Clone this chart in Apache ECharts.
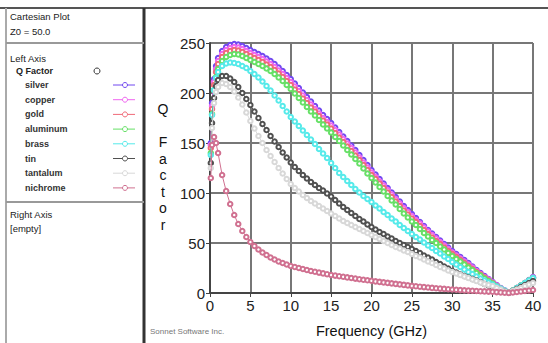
<!DOCTYPE html>
<html><head><meta charset="utf-8">
<script src="https://cdn.jsdelivr.net/npm/echarts@6/dist/echarts.min.js"></script>
<style>html,body{margin:0;padding:0;background:#fff}#c{width:548px;height:343px}</style>
</head><body><div id="c"></div>
<script>
const freq = [0.1,0.25,0.5,0.75,1,1.5,2,2.5,3,3.5,4,4.5,5,
5.5,6,6.5,7,7.5,8,8.5,9,9.5,10,
10.5,11,11.5,12,12.5,13,13.5,14,14.5,15,
15.5,16,16.5,17,17.5,18,18.5,19,19.5,20,
20.5,21,21.5,22,22.5,23,23.5,24,24.5,25,
25.5,26,26.5,27,27.5,28,28.5,29,29.5,30,
30.5,31,31.5,32,32.5,33,33.5,34,34.5,35,
35.5,36,36.5,37,37.5,38,38.5,39,39.5,40];

const silver = [150,190,214,227,235,242,246,248,249,248.5,247,245,243,
241,239,237,234.5,232,229,225.5,222,218,214,
209.5,205,200.5,196,191.5,187,182.5,178,174,170,
165.5,161,156.5,152,147.5,143,138,133,128,123,
118.5,114,109.5,105,100.5,96,91.5,87,83,79,
75,71,67,63,59.5,56,52.5,49,45.5,42,
39,36,33,30,26.5,23,20,17,14,11,
8,5,2.5,0.5,2.5,5,7.5,10,13,16];

const copper = [148,187,211,224,232,239,243,245,246,245.5,244,242,240,
238,236,234,231.5,229,226,222.5,219,215,211,
206.5,202,197.5,193,188.5,184,179.5,175,171,167.5,
163,158.5,154,149.5,145,140.5,135.5,130.5,125.5,120.5,
116,111.5,107.5,103,98.5,94,89.5,85,81,77,
73,69.5,65.5,61.5,58,54.5,51,47.5,44,40.5,
37.5,34.5,31.5,28.5,25.5,22,19,16,13.5,10.5,
7.5,4.5,2.5,0.5,2.5,5,7.5,10,12.5,15.5];

const gold = [145,184,208,221,229,236,240,242,243,242.5,241,239,237,
235,233,231,228.5,226,223,219.5,216,212,208,
203.5,199,194.5,190,185.5,181.5,177,172.5,168.5,164.5,
160,155.5,151,146.5,142,137.5,133,128,123,118,
114,109.5,105,100.5,96,91.5,87,82.5,78.5,74.5,
71,67,63,59,55.5,52,49,45.5,42,39,
36,33,30,27,24,21,18.5,15.5,12.5,10,
7,4.5,2,0.5,2.5,5,7.5,10,12.5,15];

const aluminum = [140,179,203,216,224,232,236,238,239,238.5,237,235,233,
231,229,227,224.5,222,219,215.5,212,208,204,
199.5,195,190.5,186,181.5,177.5,173,168.5,164.5,160.5,
156,152,147.5,143,138.5,134,129.5,124.5,119.5,115,
110.5,106,101.5,97,92.5,88.5,84,79.5,75.5,71.5,
68,64,60,56.5,53,50,46.5,43.5,40,37,
34,31.5,28.5,25.5,23,20,17.5,14.5,12,9.5,
6.5,4,2,0.5,2.5,5,7.5,10,12.5,15];

const brass = [138,178,203,215,221,227,229.5,230.5,230,229,227,225,222,
219,215.5,211.5,207,202.5,197.5,192.5,187,181.5,176,
171.5,167,162.5,158,153.5,149,144,139.5,135,130,
125,120,116,112,108,104,100.5,97,94,91,
87.5,84.5,81,78,74.5,71.5,68,65,62,59,
56,53.5,50.5,47.5,45,42,39.5,36.5,34,31,
28.5,26,23.5,21,19,16.5,14.5,12.5,10.5,8.5,
6.5,4.5,2.5,0.5,2.5,5,7.5,10,12.5,15];

const tin = [130,170,195,207,213,217,217,214.5,211,206,200,194,188,
181.5,175,169,163,157,151.5,146,140.5,135.5,130.5,
126,122,118,114.5,111,108,105,102.5,99.5,96.5,
93,89.5,86,83,80,77,74,71.5,68.5,66,
63.5,61,59,56.5,54.5,52,50,48,46,44,
42,40,37.5,35.5,33.5,31,29,26.5,24.5,22,
20.5,18.5,17,15.5,14,12.5,11,9,7.5,6,
4.5,3,1.5,0.5,2,4,6,8,10,12];

const tantalum = [125,165,190,201,206,210,209,206,201.5,195.5,188.5,180.5,172,
164.5,157,150,143,137,131,125,119.5,114,109,
105,101.5,98,95,92,89.5,87,84.5,82,79.5,
77,74.5,72,70,68,66,64,62,60,58,
56,54,52,50,48,46,44.5,42.5,41,39,
37,35.5,33.5,31.5,30,28,26,24.5,22.5,21,
19.5,18,16.5,15,13.5,12,10.5,9,8,7,
5,3.5,1.5,0.5,2,3.5,5,7,8.5,10];

const nichrome = [115,148,156,150,140,118,102,89,78,69,62,56,51,
47,43.5,40.5,38,35.5,33.5,31.5,30,28.5,27,
26,25,24,23,22,21.2,20.4,19.6,18.8,18,
17.4,16.8,16.2,15.6,15,14.4,13.8,13.2,12.7,12.2,
11.6,11.1,10.6,10.1,9.6,9.1,8.6,8.1,7.6,7.1,
6.7,6.3,5.9,5.5,5.1,4.7,4.4,4.1,3.8,3.5,
3.2,2.9,2.6,2.4,2.2,2,1.8,1.6,1.4,1.2,
0.9,0.6,0.3,0.1,0.5,1,1.5,2,2.5,3];

const seriesNames = ['silver','copper','gold','aluminum','brass','tin','tantalum','nichrome'];
const seriesValues = [silver,copper,gold,aluminum,brass,tin,tantalum,nichrome];
const seriesColors = ['#7048f0','#f066f0','#f06a78','#66e066','#55eaea','#505050','#d8d8d8','#d07090'];

const xTicks = [0,5,10,15,20,25,30,35,40];
const yTicks = [0,50,100,150,200,250];

const FONT = "'Liberation Sans', Arial, sans-serif";
const chart = echarts.init(document.getElementById('c'), null, {renderer:'svg'});

const graphic = [];
graphic.push({type:'line', shape:{x1:0,y1:8,x2:548,y2:8}, style:{stroke:'#555',lineWidth:2}, silent:true});
graphic.push({type:'line', shape:{x1:6,y1:8,x2:6,y2:343}, style:{stroke:'#aaa',lineWidth:2}, silent:true});
graphic.push({type:'line', shape:{x1:144,y1:8,x2:144,y2:343}, style:{stroke:'#333',lineWidth:3}, silent:true});
graphic.push({type:'line', shape:{x1:6,y1:43,x2:144,y2:43}, style:{stroke:'#999',lineWidth:2}, silent:true});
graphic.push({type:'line', shape:{x1:6,y1:202,x2:144,y2:202}, style:{stroke:'#999',lineWidth:2}, silent:true});
function txt(t,x,y,opt){
  return Object.assign({type:'text', x:x, y:y, silent:true,
    style:Object.assign({text:t, fill:'#222', fontSize:9.5, fontFamily:FONT, textVerticalAlign:'middle'}, opt||{})});
}
graphic.push(txt('Cartesian Plot',10,16));
graphic.push(txt('Z0 = 50.0',10,31));
graphic.push(txt('Left Axis',10,58));
graphic.push(txt('Q Factor',16,71,{fontWeight:'bold', fontSize:9}));
graphic.push({type:'circle', shape:{cx:97,cy:71,r:3}, style:{fill:'#fff',stroke:'#333',lineWidth:1}, silent:true});
seriesNames.forEach((n,i)=>{
  const y = 85 + i*14.7;
  graphic.push(txt(n,25,y,{fontWeight:'bold', fill:'#333', fontSize:9}));
  graphic.push({type:'line', shape:{x1:113,y1:y,x2:135,y2:y}, style:{stroke:seriesColors[i],lineWidth:1}, silent:true});
  graphic.push({type:'circle', shape:{cx:125,cy:y,r:2.5}, style:{fill:'#fff',stroke:seriesColors[i],lineWidth:1}, silent:true});
});
graphic.push(txt('Right Axis',10,214));
graphic.push(txt('[empty]',10,228));
graphic.push(txt('Q\n \nF\na\nc\nt\no\nr',163,167,{fontSize:14, textAlign:'center', lineHeight:16.5, fill:'#111'}));
graphic.push(txt('Sonnet Software Inc.',150,331,{fontSize:8, fill:'#777'}));

const series = [];
for (let i = seriesNames.length-1; i >= 0; i--) {
  series.push({
    name: seriesNames[i], type:'line',
    data: freq.map((f,k)=>[f, seriesValues[i][k]]),
    symbol:'emptyCircle', symbolSize:4.5, showAllSymbol:true,
    lineStyle:{color:seriesColors[i], width:1},
    itemStyle:{color:seriesColors[i], borderWidth:1},
    z: 3 + i*0.01
  });
}

chart.setOption({
  animation:false,
  backgroundColor:'#fff',
  grid:{left:210, right:15, top:43, bottom:49},
  xAxis:{type:'value', min:xTicks[0], max:xTicks[xTicks.length-1], interval:5,
    name:'Frequency (GHz)', nameLocation:'middle', nameGap:30,
    nameTextStyle:{fontSize:14.5, color:'#111', fontFamily:FONT},
    axisLine:{show:true, onZero:false, lineStyle:{color:'#444', width:2}},
    axisTick:{show:true, length:4, lineStyle:{color:'#444'}},
    axisLabel:{fontSize:15, color:'#222', fontFamily:FONT, margin:5},
    splitLine:{show:true, lineStyle:{color:'#777', width:2}}},
  yAxis:{type:'value', min:yTicks[0], max:yTicks[yTicks.length-1], interval:50,
    axisLine:{show:true, lineStyle:{color:'#444', width:2}},
    axisTick:{show:true, length:4, lineStyle:{color:'#444'}},
    axisLabel:{fontSize:15, color:'#222', fontFamily:FONT, margin:5},
    splitLine:{show:true, lineStyle:{color:'#777', width:2}}},
  graphic: graphic,
  series: series
});
</script></body></html>
